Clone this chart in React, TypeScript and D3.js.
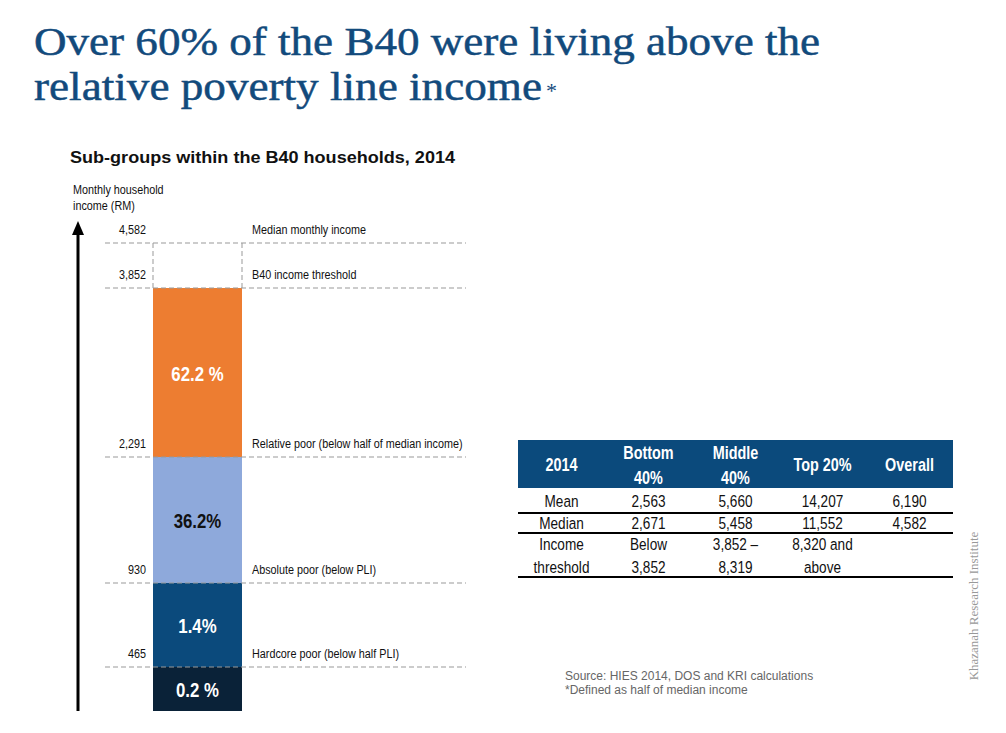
import React from 'react'
import * as d3 from 'd3'

// income thresholds (RM), top to bottom, with their descriptions
const thresholdValues = [4582, 3852, 2291, 930, 465]
const thresholdTicks = ['4,582', '3,852', '2,291', '930', '465']
const thresholdNames = [
  'Median monthly income',
  'B40 income threshold',
  'Relative poor (below half of median income)',
  'Absolute poor (below PLI)',
  'Hardcore poor (below half PLI)',
]

// B40 sub-groups, top segment first
const segmentLows = [2291, 930, 465, 0]
const segmentHighs = [3852, 2291, 930, 465]
const segmentLabels = ['62.2 %', '36.2%', '1.4%', '0.2 %']
const segmentColors = ['#ED7D31', '#8EA9DB', '#0B4A7C', '#0A2238']
const segmentTextColors = ['#fff', '#111', '#fff', '#fff']

// table
const tableColumns = ['2014', 'Bottom|40%', 'Middle|40%', 'Top 20%', 'Overall']
const tableMean = ['Mean', '2,563', '5,660', '14,207', '6,190']
const tableMedian = ['Median', '2,671', '5,458', '11,552', '4,582']
const tableThreshold = ['Income|threshold', 'Below|3,852', '3,852 –|8,319', '8,320 and|above', '']

const sans = 'Arial, Liberation Sans, sans-serif'
const serif = "'Liberation Serif', Georgia, serif"
const titleBlue = '#124A7C'

// Arial squeezed to look like Arial Narrow
const NText: React.FC<{
  x: number
  y: number
  size: number
  anchor?: 'start' | 'middle' | 'end'
  weight?: string
  fill?: string
  children: React.ReactNode
}> = ({ x, y, size, anchor = 'start', weight = 'normal', fill = '#111', children }) => (
  <text
    transform={`translate(${x},${y}) scale(0.8,1)`}
    textAnchor={anchor}
    fontFamily={sans}
    fontSize={size}
    fontWeight={weight}
    fill={fill}
  >
    {children}
  </text>
)

const App: React.FC = () => {
  const width = 1006
  const height = 733

  // schematic (not to scale) income axis
  const yScale = d3
    .scaleLinear()
    .domain([0, 465, 930, 2291, 3852, 4582])
    .range([711, 667, 583, 457, 288, 243])

  const barX = 153
  const barW = 89
  const lineX0 = 105
  const lineX1 = 466

  const colScale = d3.scaleBand<number>().domain(d3.range(tableColumns.length)).range([518, 953])
  const colX = (i: number) => (colScale(i) as number) + colScale.bandwidth() / 2

  const bodyRows = [tableMean, tableMedian]

  return (
    <svg
      width={width}
      height={height}
      style={{ position: 'absolute', left: 0, top: 0, background: '#fff' }}
    >
      {/* title */}
      <text x={34} y={55} fontFamily={serif} fontSize={41} fill={titleBlue} stroke={titleBlue} strokeWidth={0.5} textLength={786} lengthAdjust="spacingAndGlyphs">
        Over 60% of the B40 were living above the
      </text>
      <text x={34} y={100} fontFamily={serif} fontSize={41} fill={titleBlue} stroke={titleBlue} strokeWidth={0.5} textLength={508} lengthAdjust="spacingAndGlyphs">
        relative poverty line income
      </text>
      <text x={546} y={98} fontFamily={serif} fontSize={22} fill={titleBlue}>
        *
      </text>

      <text x={70} y={163} fontFamily={sans} fontSize={16.5} fontWeight="bold" fill="#111" textLength={385} lengthAdjust="spacingAndGlyphs">
        Sub-groups within the B40 households, 2014
      </text>

      {/* axis label & arrow */}
      <NText x={73} y={194} size={13.5}>Monthly household</NText>
      <NText x={73} y={210} size={13.5}>income (RM)</NText>
      <line x1={78} x2={78} y1={yScale(0)} y2={232} stroke="#000" strokeWidth={3} />
      <path d="M72,235 L78,221 L84,235 Z" fill="#000" />

      {/* bar segments */}
      {segmentLows.map((lo, i) => {
        const y0 = yScale(segmentHighs[i])
        const y1 = yScale(lo)
        return (
          <g key={i}>
            <rect x={barX} y={y0} width={barW} height={y1 - y0} fill={segmentColors[i]} />
            <NText x={barX + barW / 2} y={(y0 + y1) / 2 + 8} anchor="middle" weight="bold" size={21} fill={segmentTextColors[i]}>
              {segmentLabels[i]}
            </NText>
          </g>
        )
      })}

      {/* dashed sides above the bar */}
      {[barX, barX + barW].map((x) => (
        <line key={x} x1={x} x2={x} y1={yScale(4582)} y2={yScale(3852)} stroke="#999" strokeDasharray="5,3" />
      ))}

      {/* threshold lines and labels */}
      {thresholdValues.map((v, i) => {
        const y = yScale(v)
        return (
          <g key={v}>
            <line x1={lineX0} x2={lineX1} y1={y} y2={y} stroke="#999" strokeDasharray="5,3" />
            <NText x={146} y={y - 9} anchor="end" size={13.5}>
              {thresholdTicks[i]}
            </NText>
            <NText x={252} y={y - 9} size={13.5}>
              {thresholdNames[i]}
            </NText>
          </g>
        )
      })}

      {/* table */}
      <rect x={518} y={440} width={435} height={48} fill="#0B4A7C" />
      {tableColumns.map((c, i) => {
        const parts = c.split('|')
        return parts.map((p, j) => (
          <NText
            key={`${i}-${j}`}
            x={colX(i)}
            y={parts.length === 1 ? 471 : 459 + j * 25}
            anchor="middle"
            weight="bold"
            size={18}
            fill="#fff"
          >
            {p}
          </NText>
        ))
      })}
      {bodyRows.map((row, r) =>
        row.map((cell, i) => (
          <NText key={`${r}-${i}`} x={colX(i)} y={507 + r * 22} anchor="middle" size={17}>
            {cell}
          </NText>
        ))
      )}
      {tableThreshold.map((cell, i) =>
        cell.split('|').map((p, j) => (
          <NText key={`t-${i}-${j}`} x={colX(i)} y={550 + j * 23} anchor="middle" size={17}>
            {p}
          </NText>
        ))
      )}
      {[513, 533, 577].map((y) => (
        <line key={y} x1={518} x2={953} y1={y} y2={y} stroke="#000" strokeWidth={2} />
      ))}

      {/* source */}
      <text x={565} y={680} fontFamily={sans} fontSize={12} fill="#666">
        Source: HIES 2014, DOS and KRI calculations
      </text>
      <text x={565} y={694} fontFamily={sans} fontSize={12} fill="#666">
        *Defined as half of median income
      </text>

      <text
        transform="translate(978,606) rotate(-90)"
        textAnchor="middle"
        fontFamily={serif}
        fontSize={13}
        fill="#999"
      >
        Khazanah Research Institute
      </text>
    </svg>
  )
}

export default App
